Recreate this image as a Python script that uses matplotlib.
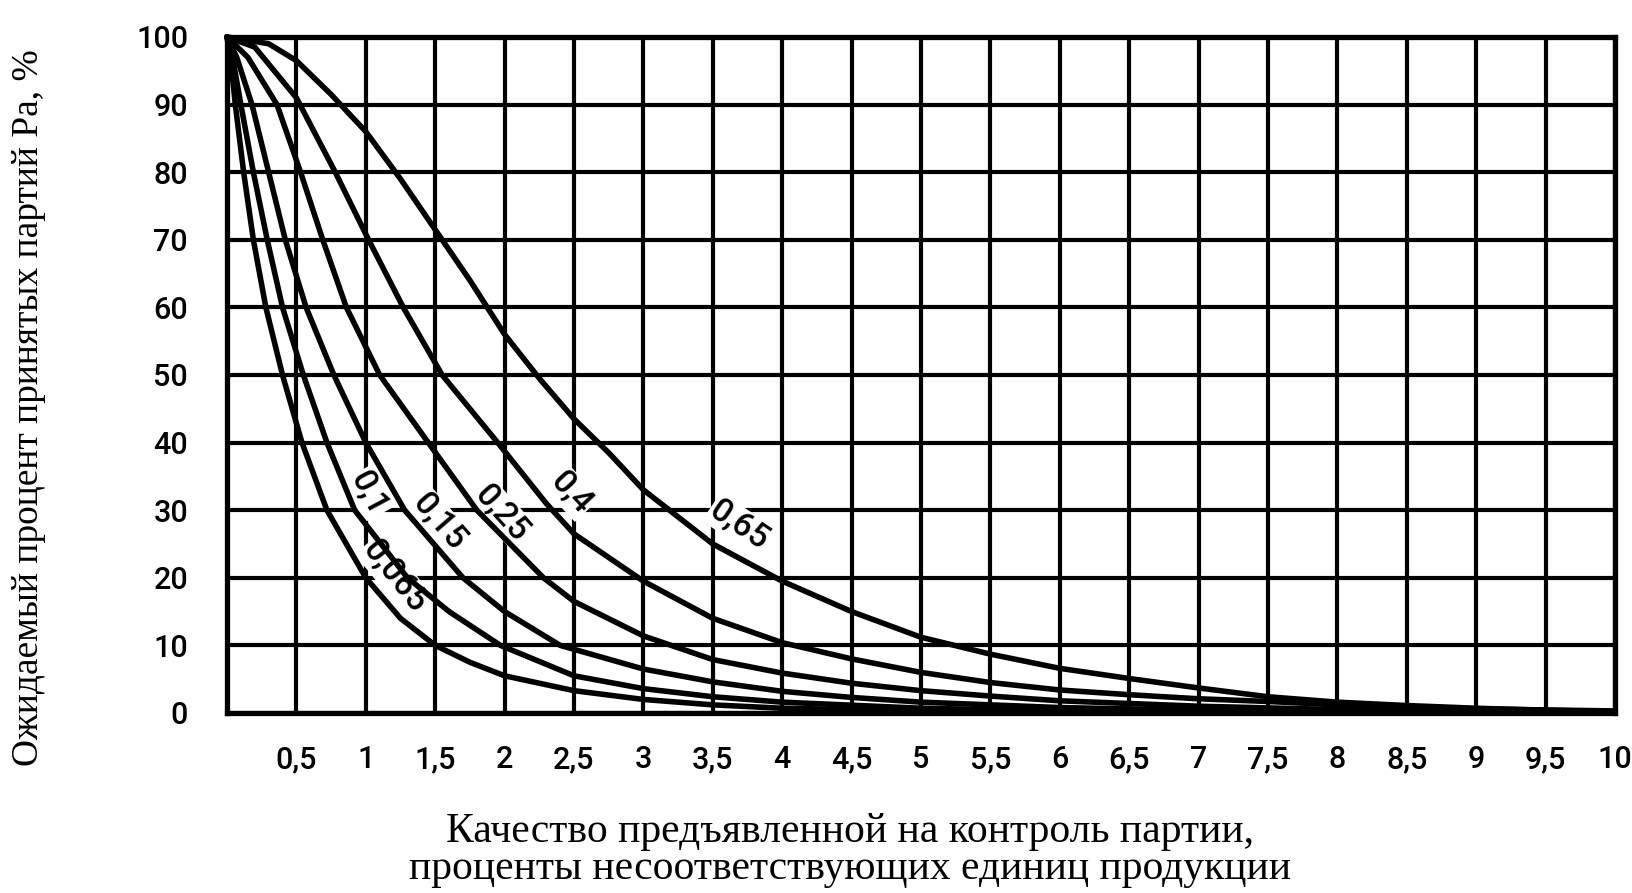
import matplotlib
matplotlib.use("Agg")
import matplotlib.pyplot as plt

# ---- data ----
x_ticks = [0.5, 1, 1.5, 2, 2.5, 3, 3.5, 4, 4.5, 5, 5.5, 6, 6.5, 7, 7.5, 8, 8.5, 9, 9.5, 10]
x_tick_labels = ["0,5", "1", "1,5", "2", "2,5", "3", "3,5", "4", "4,5", "5", "5,5",
                 "6", "6,5", "7", "7,5", "8", "8,5", "9", "9,5", "10"]
y_ticks = [0, 10, 20, 30, 40, 50, 60, 70, 80, 90, 100]

c0065_x = [0, 0.03, 0.06, 0.12, 0.19, 0.28, 0.40, 0.54, 0.72, 1.0, 1.25, 1.5, 1.75, 2.0, 2.5, 3.0, 3.5, 4.0, 5.0, 6.0, 8.0, 10.0]
c0065_y = [100, 96, 90, 80, 70, 60, 50, 40, 30, 20, 14, 10, 7.5, 5.5, 3.3, 2.0, 1.2, 0.7, 0.3, 0.1, 0.0, 0.0]

c01_x = [0, 0.04, 0.10, 0.19, 0.29, 0.40, 0.55, 0.72, 0.92, 1.3, 1.6, 1.97, 2.5, 3.0, 3.5, 4.0, 5.0, 6.0, 8.0, 10.0]
c01_y = [100, 97, 90, 80, 70, 60, 50, 40, 30, 20, 15, 10, 5.5, 3.6, 2.4, 1.6, 0.7, 0.3, 0.05, 0.0]

c015_x = [0, 0.07, 0.18, 0.30, 0.42, 0.57, 0.77, 1.0, 1.28, 1.7, 2.0, 2.4, 3.0, 3.5, 4.0, 4.5, 5.0, 6.0, 7.0, 8.0, 10.0]
c015_y = [100, 97, 90, 80, 70, 60, 50, 40, 30, 20, 15, 10, 6.5, 4.6, 3.2, 2.3, 1.6, 0.8, 0.4, 0.2, 0.05]

c025_x = [0, 0.15, 0.36, 0.53, 0.69, 0.86, 1.1, 1.45, 1.8, 2.28, 2.5, 3.0, 3.5, 4.0, 4.5, 5.0, 5.5, 6.0, 7.0, 8.0, 9.0, 10.0]
c025_y = [100, 97, 90, 80, 70, 60, 50, 40, 30, 20, 16.5, 11.4, 7.9, 5.9, 4.4, 3.3, 2.5, 1.8, 1.0, 0.5, 0.25, 0.1]

c04_x = [0, 0.2, 0.5, 0.78, 1.02, 1.27, 1.55, 1.95, 2.3, 2.5, 3.0, 3.5, 4.0, 4.5, 5.0, 5.5, 6.0, 6.5, 7.0, 7.5, 8.0, 9.0, 10.0]
c04_y = [100, 98.5, 91, 80, 70, 60, 50, 40, 31, 26.5, 19.5, 14, 10.4, 8, 6, 4.5, 3.4, 2.7, 2.1, 1.7, 1.2, 0.6, 0.3]

c065_x = [0, 0.3, 0.5, 0.75, 1.0, 1.25, 1.5, 1.75, 2.0, 2.25, 2.5, 2.75, 3.0, 3.5, 4.0, 4.5, 5.0, 5.5, 6.0, 6.5, 7.0, 7.5, 8.0, 8.5, 9.0, 9.5, 10.0]
c065_y = [100, 99, 96.5, 91.5, 86, 79, 71.5, 64, 56, 49.5, 43.5, 38.5, 33, 25, 19.5, 15, 11.2, 8.7, 6.6, 5.1, 3.7, 2.4, 1.6, 1.1, 0.7, 0.4, 0.2]

curve_labels = ["0,065", "0,1", "0,15", "0,25", "0,4", "0,65"]
label_x = [1.21, 1.02, 1.53, 1.98, 2.48, 3.69]
label_y = [20.2, 32.5, 28.2, 29.5, 32.6, 27.8]
label_rot = [-51, -62, -49, -48, -47, -34]

xlabel_text = "Качество предъявленной на контроль партии,\nпроценты несоответствующих единиц продукции"
ylabel_text = "Ожидаемый процент принятых партий Pa, %"

TICK_FONT = ["Roboto", "DejaVu Sans"]
SERIF_FONT = ["Liberation Serif", "DejaVu Serif"]

# ---- figure ----
fig = plt.figure(figsize=(16.33, 8.93), dpi=100)
ax = fig.add_axes([0.139, 0.2016, 0.850, 0.757])
ax.set_xlim(0, 10)
ax.set_ylim(0, 100)

ax.set_xticks(x_ticks)
ax.set_xticklabels(x_tick_labels)
ax.set_yticks(y_ticks)
ax.set_yticklabels([str(v) for v in y_ticks])
ax.tick_params(axis="both", length=0, labelsize=22)
ax.tick_params(axis="x", pad=23)
ax.tick_params(axis="y", pad=28)
for lab in ax.get_xticklabels() + ax.get_yticklabels():
    lab.set_family(TICK_FONT)
    lab.set_fontweight("medium")

ax.grid(True, color="black", linewidth=3.0, zorder=1)
ax.set_axisbelow(True)
for sp in ax.spines.values():
    sp.set_linewidth(3.8)
    sp.set_color("black")
    sp.set_zorder(5)

for cx, cy in [(c0065_x, c0065_y), (c01_x, c01_y), (c015_x, c015_y),
               (c025_x, c025_y), (c04_x, c04_y), (c065_x, c065_y)]:
    ax.plot(cx, cy, color="black", linewidth=4.0, solid_capstyle="round",
            solid_joinstyle="round", zorder=4, clip_on=False)

for t, lx, ly, r in zip(curve_labels, label_x, label_y, label_rot):
    ax.text(lx, ly, t, rotation=r, rotation_mode="anchor", ha="center", va="center",
            fontsize=24, family=TICK_FONT, fontweight="medium", zorder=3,
            bbox=dict(facecolor="white", edgecolor="none", pad=1.0))

fig.text(0.5205, 0.006, xlabel_text, family=SERIF_FONT, fontsize=30,
         ha="center", va="bottom", linespacing=0.95, multialignment="center")
fig.text(0.0175, 0.544, ylabel_text, family=SERIF_FONT, fontsize=27,
         rotation=90, ha="center", va="center")

fig.savefig("out.png", dpi=100)
